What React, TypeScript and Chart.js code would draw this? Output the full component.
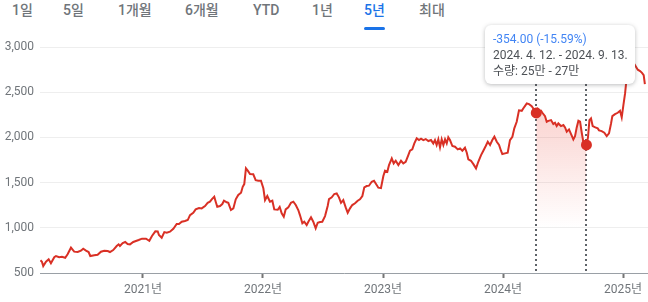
import React, { useEffect, useRef } from "react";
import { Chart, registerables } from "chart.js";

Chart.register(...registerables);

const rangeTabs = ["1일", "5일", "1개월", "6개월", "YTD", "1년", "5년", "최대"];
const activeTab = "5년";
const tabLefts = [12, 63, 118, 185, 253, 312, 364, 419];

const yTicks = [500, 1000, 1500, 2000, 2500, 3000];
const xTicks = [2021, 2022, 2023, 2024, 2025];

const times = [
  2020.146, 2020.158, 2020.169, 2020.192, 2020.214, 2020.233, 2020.261, 2020.275, 2020.302, 2020.325,
  2020.352, 2020.372, 2020.4, 2020.427, 2020.456, 2020.483, 2020.502, 2020.525, 2020.547, 2020.561,
  2020.594, 2020.622, 2020.65, 2020.677, 2020.706, 2020.725, 2020.752, 2020.781, 2020.797, 2020.808,
  2020.831, 2020.852, 2020.872, 2020.892, 2020.919, 2020.947, 2020.964, 2020.992, 2021.025, 2021.053,
  2021.075, 2021.103, 2021.123, 2021.133, 2021.156, 2021.178, 2021.198, 2021.225, 2021.253, 2021.281,
  2021.3, 2021.323, 2021.35, 2021.373, 2021.392, 2021.419, 2021.439, 2021.467, 2021.489, 2021.517,
  2021.539, 2021.558, 2021.573, 2021.594, 2021.606, 2021.619, 2021.642, 2021.661, 2021.675, 2021.698,
  2021.711, 2021.733, 2021.753, 2021.773, 2021.794, 2021.817, 2021.831, 2021.844, 2021.858, 2021.873,
  2021.892, 2021.919, 2021.939, 2021.961, 2021.983, 2022.003, 2022.017, 2022.036, 2022.058, 2022.078,
  2022.094, 2022.123, 2022.139, 2022.156, 2022.173, 2022.189, 2022.211, 2022.233, 2022.253, 2022.273,
  2022.294, 2022.308, 2022.328, 2022.344, 2022.364, 2022.378, 2022.4, 2022.419, 2022.439, 2022.456,
  2022.475, 2022.494, 2022.517, 2022.539, 2022.55, 2022.573, 2022.594, 2022.614, 2022.633, 2022.65,
  2022.669, 2022.689, 2022.706, 2022.725, 2022.744, 2022.767, 2022.789, 2022.808, 2022.828, 2022.844,
  2022.864, 2022.883, 2022.906, 2022.925, 2022.942, 2022.961, 2022.983, 2023.003, 2023.017, 2023.036,
  2023.05, 2023.073, 2023.089, 2023.106, 2023.128, 2023.15, 2023.169, 2023.189, 2023.211, 2023.225,
  2023.244, 2023.261, 2023.281, 2023.3, 2023.317, 2023.336, 2023.356, 2023.378, 2023.4, 2023.419,
  2023.433, 2023.447, 2023.461, 2023.475, 2023.489, 2023.503, 2023.517, 2023.531, 2023.544, 2023.558,
  2023.578, 2023.6, 2023.623, 2023.642, 2023.661, 2023.683, 2023.698, 2023.711, 2023.733, 2023.753,
  2023.775, 2023.794, 2023.817, 2023.836, 2023.856, 2023.873, 2023.892, 2023.911, 2023.928, 2023.948,
  2023.967, 2023.983, 2023.994, 2024.017, 2024.039, 2024.058, 2024.078, 2024.094, 2024.114, 2024.133,
  2024.156, 2024.178, 2024.198, 2024.217, 2024.239, 2024.261, 2024.277, 2024.29, 2024.303, 2024.317,
  2024.328, 2024.35, 2024.364, 2024.378, 2024.4, 2024.419, 2024.433, 2024.447, 2024.461, 2024.483,
  2024.503, 2024.517, 2024.531, 2024.55, 2024.567, 2024.586, 2024.6, 2024.614, 2024.628, 2024.642,
  2024.656, 2024.669, 2024.695, 2024.708, 2024.72, 2024.733, 2024.747, 2024.769, 2024.789, 2024.8,
  2024.822, 2024.844, 2024.864, 2024.883, 2024.9, 2024.911, 2024.933, 2024.956, 2024.975, 2024.989,
  2025.003, 2025.017, 2025.031, 2025.044, 2025.058, 2025.078, 2025.1, 2025.123, 2025.142, 2025.158,
  2025.172, 2025.182,
];

const prices = [
  640, 625, 577, 625, 651, 607, 674, 688, 674, 680,
  669, 707, 780, 736, 732, 747, 769, 747, 732, 688,
  696, 702, 736, 747, 743, 732, 754, 799, 817, 799,
  832, 843, 821, 817, 843, 857, 865, 880, 880, 857,
  909, 961, 960, 920, 890, 953, 946, 957, 990, 1042,
  1042, 1067, 1075, 1086, 1141, 1167, 1204, 1219, 1215, 1241,
  1277, 1289, 1315, 1344, 1289, 1233, 1241, 1263, 1300, 1282,
  1277, 1197, 1215, 1315, 1363, 1388, 1454, 1484, 1658, 1632,
  1595, 1592, 1528, 1521, 1521, 1437, 1307, 1352, 1289, 1300,
  1204, 1200, 1230, 1160, 1123, 1204, 1226, 1277, 1289, 1252,
  1197, 1141, 1050, 1067, 1031, 1067, 1116, 1067, 994, 1056,
  1064, 1067, 1130, 1241, 1318, 1337, 1374, 1381, 1337, 1277,
  1307, 1226, 1167, 1215, 1252, 1271, 1300, 1315, 1352, 1448,
  1462, 1466, 1510, 1521, 1484, 1444, 1440, 1573, 1632, 1620,
  1695, 1768, 1713, 1742, 1695, 1742, 1713, 1731, 1805, 1853,
  1868, 1934, 1990, 1971, 1986, 1971, 1982, 1960, 1971, 1934,
  1971, 1916, 1979, 1890, 1979, 1916, 1979, 1934, 2001, 1971,
  1905, 1897, 1868, 1879, 1853, 1886, 1831, 1757, 1742, 1705,
  1658, 1731, 1805, 1853, 1905, 1952, 1916, 1971, 2008, 1952,
  1916, 1853, 1816, 1824, 1831, 1971, 2008, 2101, 2174, 2300,
  2295, 2339, 2376, 2369, 2347, 2303, 2271, 2315, 2284, 2295,
  2273, 2236, 2174, 2184, 2192, 2148, 2162, 2126, 2155, 2126,
  2137, 2111, 2063, 2089, 2037, 1979, 2015, 2111, 2184, 2174,
  2052, 1952, 1917, 2001, 2192, 2211, 2126, 2111, 2100, 2078,
  2070, 2052, 2015, 2045, 2155, 2236, 2258, 2273, 2295, 2222,
  2358, 2487, 2671, 2819, 2812, 2764, 2800, 2750, 2735, 2715,
  2690, 2590,
];

const rangeStart = 2024.277;
const rangeEnd = 2024.695;
const tooltipLines = ["-354.00 (-15.59%)", "2024. 4. 12. - 2024. 9. 13.", "수량: 25만 - 27만"];

const FONT = "Roboto, 'Noto Sans CJK KR', sans-serif";
const RED = "#d93025";

export default function App() {
  const ref = useRef<HTMLCanvasElement | null>(null);

  useEffect(() => {
    document.body.style.margin = "0";
    const canvas = ref.current;
    if (!canvas) return;

    const series = times.map((t, i) => ({ x: t, y: prices[i] }));
    const inRange = series.filter((p) => p.x >= rangeStart && p.x <= rangeEnd);
    const markers = series.filter((p) => p.x === rangeStart || p.x === rangeEnd);

    const dashPlugin = {
      id: "rangeLines",
      beforeDatasetsDraw(chart: any) {
        const { ctx, chartArea, scales } = chart;
        ctx.save();
        ctx.strokeStyle = "#5f6368";
        ctx.lineWidth = 2;
        ctx.setLineDash([2, 3]);
        [rangeStart, rangeEnd].forEach((t) => {
          const px = Math.round(scales.x.getPixelForValue(t));
          ctx.beginPath();
          ctx.moveTo(px, chartArea.top);
          ctx.lineTo(px, chartArea.bottom);
          ctx.stroke();
        });
        ctx.restore();
      },
    };

    const chart = new Chart(canvas, {
      type: "line",
      data: {
        datasets: [
          {
            data: markers,
            showLine: false,
            pointRadius: 5.5,
            pointBackgroundColor: RED,
            pointBorderWidth: 0,
            order: 0,
          } as any,
          {
            data: series,
            borderColor: RED,
            borderWidth: 2,
            pointRadius: 0,
            tension: 0,
            fill: false,
            order: 1,
          },
          {
            data: inRange,
            borderWidth: 0,
            pointRadius: 0,
            fill: "start",
            order: 2,
            backgroundColor: (c: any) => {
              const { ctx, chartArea } = c.chart;
              if (!chartArea) return "rgba(217,48,37,0.15)";
              const y = c.chart.scales.y;
              const g = ctx.createLinearGradient(0, y.getPixelForValue(2400), 0, y.getPixelForValue(1000));
              g.addColorStop(0, "rgba(234,67,53,0.25)");
              g.addColorStop(1, "rgba(234,67,53,0)");
              return g;
            },
          },
        ],
      },
      options: {
        animation: false,
        responsive: false,
        devicePixelRatio: 1,
        layout: { autoPadding: false, padding: { top: 29, left: 0, right: 0, bottom: 0 } },
        plugins: { legend: { display: false }, tooltip: { enabled: false } },
        events: [],
        scales: {
          x: {
            type: "linear",
            min: 2020.142,
            max: 2025.208,
            afterFit: (s: any) => {
              s.height = 29;
              s.paddingLeft = 0;
              s.paddingRight = 0;
            },
            afterBuildTicks: (s: any) => {
              s.ticks = xTicks.map((v) => ({ value: v }));
            },
            grid: {
              drawOnChartArea: false,
              drawTicks: true,
              tickLength: 5,
              tickWidth: 2,
              tickColor: "#757575",
            },
            border: { display: true, color: "#9aa0a6", width: 1 },
            ticks: {
              callback: (v: any) => `${v}년`,
              color: "#70757a",
              font: { family: FONT, size: 12 },
              padding: 5,
              maxRotation: 0,
            },
          },
          y: {
            type: "linear",
            min: 500,
            max: 3200,
            afterFit: (s: any) => {
              s.width = 40;
              s.paddingTop = 0;
              s.paddingBottom = 0;
            },
            afterBuildTicks: (s: any) => {
              s.ticks = yTicks.map((v) => ({ value: v }));
            },
            grid: { color: "#eeeeee", lineWidth: 1, drawTicks: false },
            border: { display: false },
            ticks: {
              callback: (v: any) => Number(v).toLocaleString("en-US"),
              color: "#70757a",
              font: { family: FONT, size: 12 },
              padding: 6,
            },
          },
        },
      },
      plugins: [dashPlugin],
    });

    return () => chart.destroy();
  }, []);

  return (
    <div style={{ position: "fixed", left: 0, top: 0, width: 648, height: 302, background: "#fff", fontFamily: FONT }}>
      {rangeTabs.map((label, i) => (
        <div
          key={label}
          style={{
            position: "absolute",
            left: tabLefts[i],
            top: 1,
            fontSize: 14,
            lineHeight: "18px",
            fontWeight: 500,
            color: label === activeTab ? "#1a73e8" : "#70757a",
            whiteSpace: "nowrap",
          }}
        >
          {label}
          {label === activeTab && (
            <div style={{ position: "absolute", left: 0, right: 0, top: 26, height: 3, background: "#1a73e8", borderRadius: 2 }} />
          )}
        </div>
      ))}
      <canvas ref={ref} width={648} height={302} style={{ position: "absolute", left: 0, top: 0, width: 648, height: 302 }} />
      <div
        style={{
          position: "absolute",
          left: 485,
          top: 25,
          width: 150,
          height: 59,
          boxSizing: "border-box",
          background: "#fff",
          borderRadius: 6,
          boxShadow: "0 1px 4px rgba(60,64,67,0.35)",
          padding: "6px 0 0 8px",
          fontSize: 12,
          lineHeight: "16px",
          color: "#4d5156",
          whiteSpace: "nowrap",
        }}
      >
        <div style={{ color: "#4285f4" }}>{tooltipLines[0]}</div>
        <div>{tooltipLines[1]}</div>
        <div>{tooltipLines[2]}</div>
      </div>
    </div>
  );
}
